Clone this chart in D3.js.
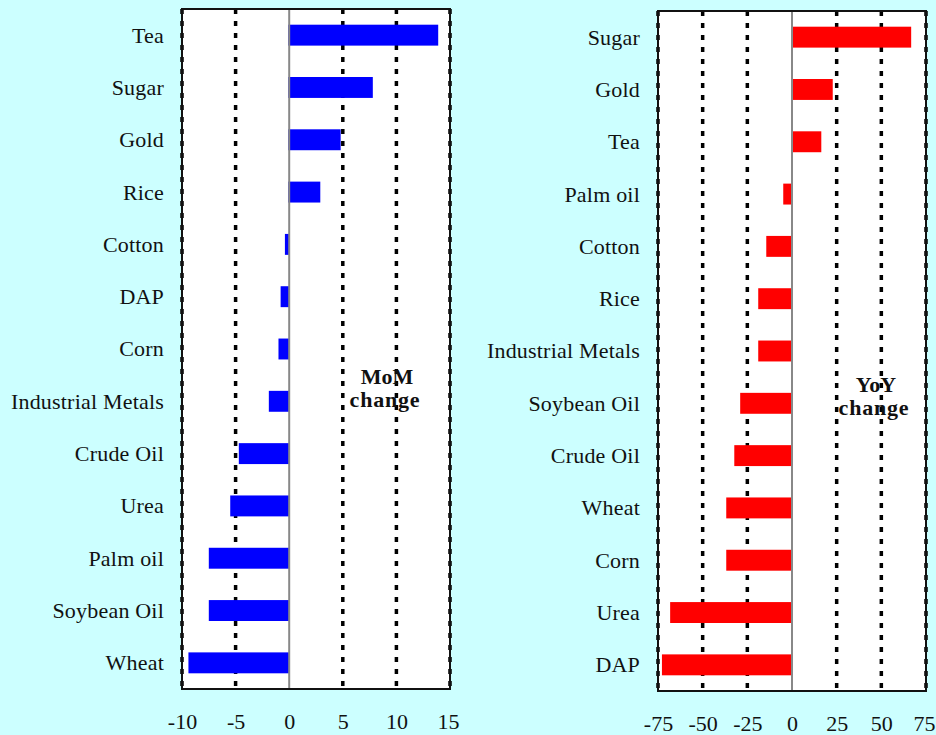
<!DOCTYPE html>
<html>
<head>
<meta charset="utf-8">
<script src="https://cdn.jsdelivr.net/npm/d3@7"></script>
<style>
  html, body { margin: 0; padding: 0; background: #CCFFFF; }
  svg { display: block; }
  text { font-family: "Liberation Serif", "Times New Roman", serif; fill: #111; }
</style>
</head>
<body>
<svg id="chart" width="936" height="735"></svg>
<script>
// Month-on-month change (%)
const momCategories = ["Tea", "Sugar", "Gold", "Rice", "Cotton", "DAP", "Corn",
  "Industrial Metals", "Crude Oil", "Urea", "Palm oil", "Soybean Oil", "Wheat"];
const momValues = [13.9, 7.8, 4.8, 2.9, -0.4, -0.8, -1.0, -1.9, -4.7, -5.5, -7.5, -7.5, -9.4];
const momTicks = [-10, -5, 0, 5, 10, 15];

// Year-on-year change (%)
const yoyCategories = ["Sugar", "Gold", "Tea", "Palm oil", "Cotton", "Rice",
  "Industrial Metals", "Soybean Oil", "Crude Oil", "Wheat", "Corn", "Urea", "DAP"];
const yoyValues = [66.7, 22.8, 16.4, -4.9, -14.4, -18.9, -18.9, -29.0, -32.3, -36.8, -36.8, -68.2, -72.8];
const yoyTicks = [-75, -50, -25, 0, 25, 50, 75];

const svg = d3.select("#chart");
const serif = "'Liberation Serif', 'Times New Roman', serif";

function panel(opts) {
  const { left, right, top, bottom, categories, values, ticks, color, title } = opts;
  const x = d3.scaleLinear().domain([ticks[0], ticks[ticks.length - 1]]).range([left, right]);
  const y = d3.scaleBand().domain(categories).range([top, bottom])
    .paddingInner(0.6).paddingOuter(0.3);

  const g = svg.append("g");

  // plot background
  g.append("rect").attr("x", left).attr("y", top)
    .attr("width", right - left).attr("height", bottom - top)
    .attr("fill", "#fff");

  // dotted gridlines at every non-zero tick
  g.selectAll("line.grid").data(ticks.filter(t => t !== 0)).join("line")
    .attr("class", "grid")
    .attr("x1", d => x(d)).attr("x2", d => x(d))
    .attr("y1", top).attr("y2", bottom)
    .attr("stroke", "#000").attr("stroke-width", 3.5)
    .attr("stroke-dasharray", "5 7");

  // bars
  g.selectAll("rect.bar").data(categories).join("rect")
    .attr("class", "bar")
    .attr("x", (d, i) => Math.min(x(0), x(values[i])) - (values[i] > 0 ? 1 : 0))
    .attr("width", (d, i) => Math.abs(x(values[i]) - x(0)) + (values[i] > 0 ? 1 : 0))
    .attr("y", d => y(d))
    .attr("height", y.bandwidth())
    .attr("fill", color);

  // zero line
  g.append("line")
    .attr("x1", x(0)).attr("x2", x(0)).attr("y1", top).attr("y2", bottom)
    .attr("stroke", "#888").attr("stroke-width", 2);

  // frame
  g.append("rect").attr("x", left).attr("y", top)
    .attr("width", right - left).attr("height", bottom - top)
    .attr("fill", "none").attr("stroke", "#111").attr("stroke-width", 2);

  // category axis
  const ya = g.append("g").attr("transform", `translate(${left},0)`)
    .call(d3.axisLeft(y).tickSize(0).tickPadding(18));
  ya.select(".domain").remove();
  ya.selectAll("text").attr("font-size", 22).attr("dy", "0.34em")
    .attr("letter-spacing", 0.2)
    .style("font-family", serif).attr("fill", "#111");

  // value axis
  const xmax = ticks[ticks.length - 1];
  const xa = g.append("g").attr("transform", `translate(0,${bottom})`)
    .call(d3.axisBottom(x).tickValues(ticks).tickSize(0).tickPadding(24)
      .tickFormat(d => String(d)));
  xa.select(".domain").remove();
  xa.selectAll("text").attr("font-size", 22)
    .attr("dx", d => d === xmax ? -2 : 0)
    .style("font-family", serif).attr("fill", "#111");

  // panel title
  const t = g.append("text").attr("text-anchor", "middle")
    .attr("font-size", 22).attr("font-weight", "bold");
  t.append("tspan").attr("x", title.x).attr("y", title.y).text(title.lines[0]);
  t.append("tspan").attr("x", title.x - 2).attr("y", title.y + 23)
    .attr("letter-spacing", 0.8).text(title.lines[1]);
}

panel({
  left: 182, right: 450, top: 9, bottom: 689,
  categories: momCategories, values: momValues, ticks: momTicks, color: "#0000FF",
  title: { x: 387, y: 384, lines: ["MoM", "change"] }
});

panel({
  left: 658, right: 926, top: 11, bottom: 691,
  categories: yoyCategories, values: yoyValues, ticks: yoyTicks, color: "#FF0000",
  title: { x: 876, y: 392, lines: ["YoY", "change"] }
});
</script>
</body>
</html>
